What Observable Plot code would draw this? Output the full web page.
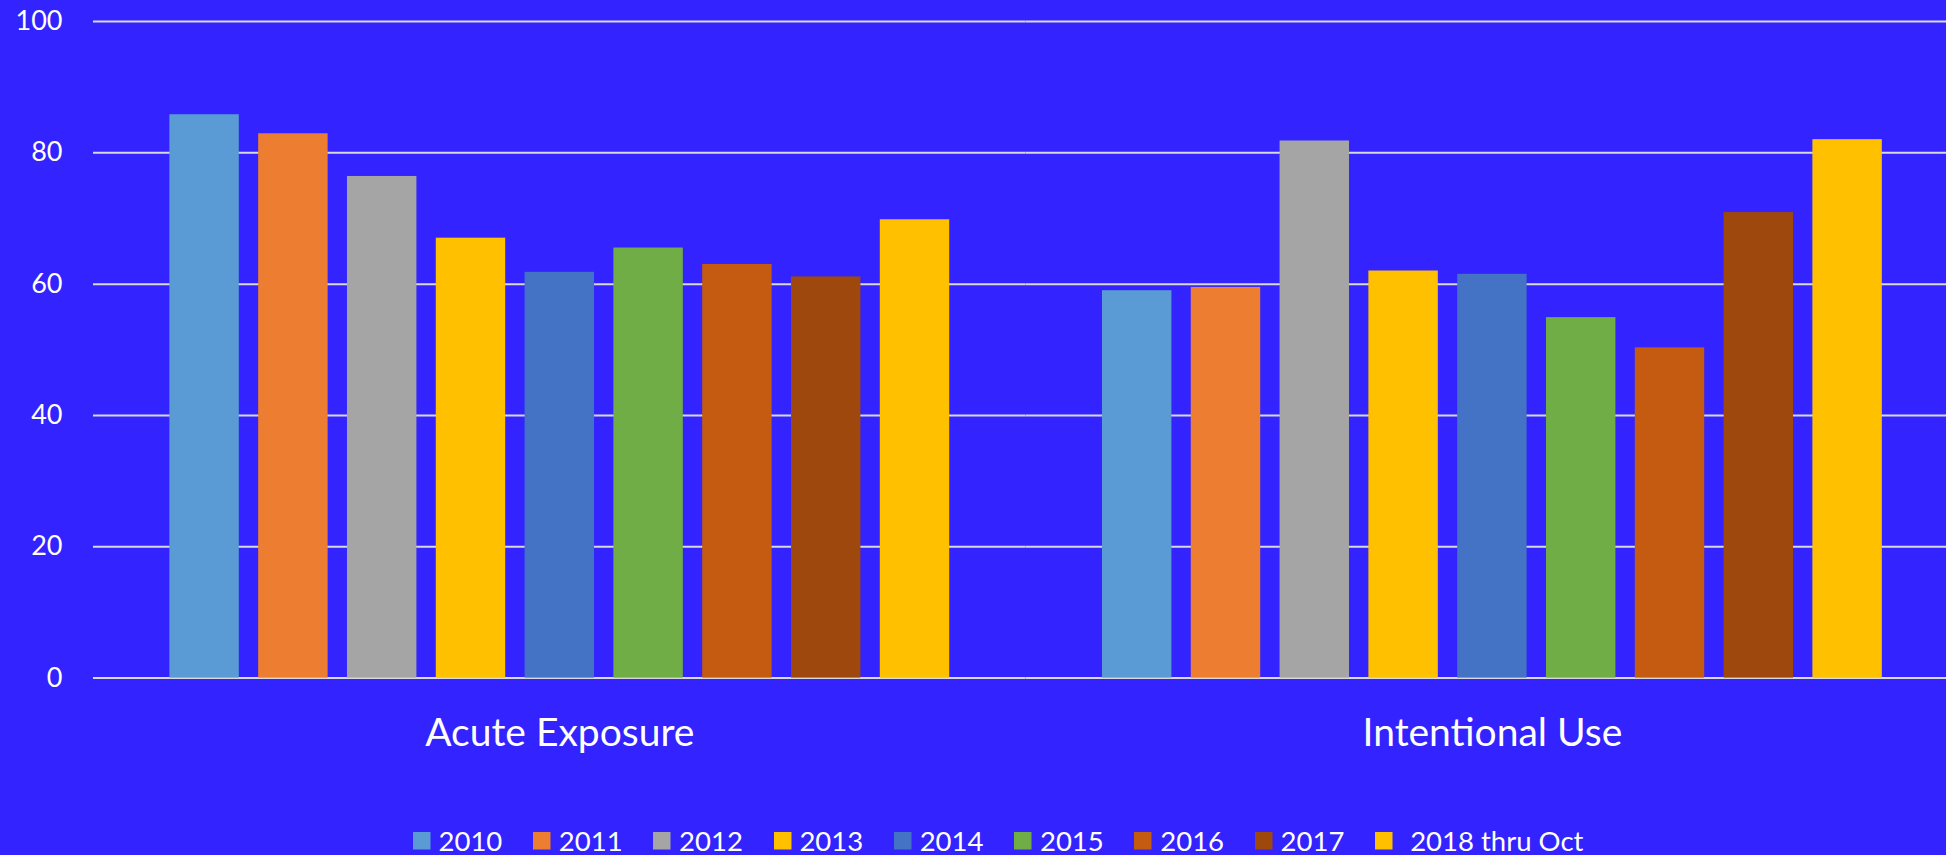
<!DOCTYPE html>
<html>
<head>
<meta charset="utf-8">
<script src="https://cdn.jsdelivr.net/npm/d3@7"></script>
<script src="https://cdn.jsdelivr.net/npm/@observablehq/plot@0.6"></script>
<style>
  html, body { margin: 0; padding: 0; overflow: hidden; background: #3223ff; }
  body { width: 1946px; height: 855px; font-family: Lato, sans-serif; color: white; }
  #chart svg { display: block; }
  .lg-swatches { font-family: Lato, sans-serif !important; font-size: 27.5px !important; color: white; margin: 3px 0 0 412.7px !important; min-height: 35px !important; }
  .lg-swatch { width: 120.3px; margin-right: 0 !important; flex: none; }
  .lg-swatch > svg { margin-right: 8.3px !important; }
  .lg-swatch:last-child { width: auto; }
  .lg-swatch:last-child > svg { margin-right: 17.6px !important; }
</style>
</head>
<body>
<div id="chart"></div>
<script>
const categories = ["Acute Exposure", "Intentional Use"];
const years = ["2010", "2011", "2012", "2013", "2014", "2015", "2016", "2017", "2018 thru Oct"];
const acuteExposure = [85.8, 82.9, 76.4, 67.0, 61.8, 65.5, 63.0, 61.1, 69.8];
const intentionalUse = [59.0, 59.5, 81.8, 62.0, 61.5, 54.9, 50.3, 70.9, 82.0];
const colors = ["#5b9bd5", "#ed7d31", "#a5a5a5", "#ffc000", "#4472c4", "#70ad47", "#c55a11", "#9e480e", "#ffc000"];
const yTicks = [0, 20, 40, 60, 80, 100];

const series = [acuteExposure, intentionalUse];
const data = categories.flatMap((category, i) =>
  years.map((year, j) => ({category, year, value: series[i][j]}))
);

const bg = "#3223ff";
const chart = Plot.plot({
  width: 1946,
  height: 820,
  marginTop: 21,
  marginBottom: 142.4,
  marginLeft: 93,
  marginRight: 0,
  style: {background: bg, color: "white", fontFamily: "Lato, sans-serif", overflow: "hidden"},
  fx: {domain: categories, range: [93, 1958.2], paddingInner: 0, paddingOuter: 0, round: false, axis: null},
  x: {domain: years, paddingInner: 0.218, paddingOuter: 0.86, round: false, axis: null},
  y: {domain: [0, 100], axis: null},
  color: {domain: years, range: colors},
  marks: [
    Plot.gridY(yTicks, {stroke: "#d9d9d9", strokeOpacity: 1, strokeWidth: 2}),
    Plot.barY(data, {fx: "category", x: "year", y: "value", fill: "year"}),
    Plot.axisY(yTicks, {tickSize: 0, tickPadding: 31, fontSize: 27, label: null}),
    Plot.axisFx({anchor: "bottom", tickSize: 0, tickPadding: 40, fontSize: 39, label: null})
  ]
});
document.getElementById("chart").appendChild(chart);

const legend = chart.legend("color", {
  className: "lg",
  swatchSize: 17.5,
  style: {color: "white"}
});
document.getElementById("chart").appendChild(legend);
</script>
</body>
</html>
